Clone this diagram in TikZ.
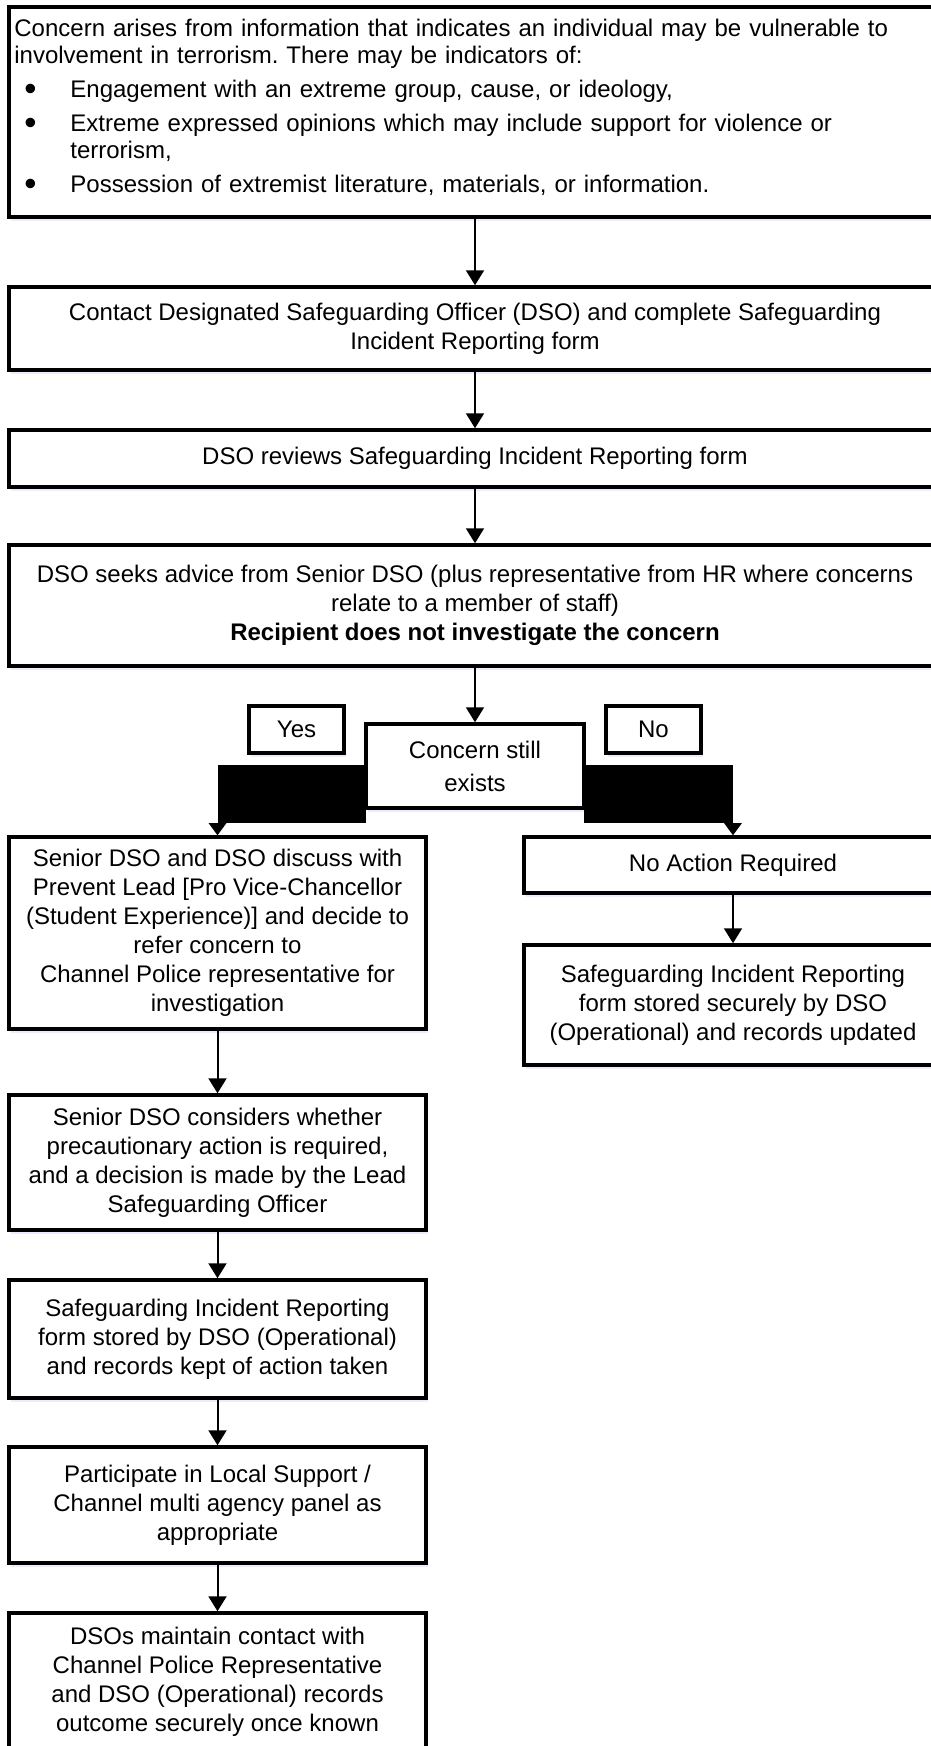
\documentclass[tikz,border=0pt]{standalone}
\usepackage{fontspec}
\usepackage{graphicx}
\setmainfont{Liberation Sans}
\frenchspacing
\usetikzlibrary{arrows.meta,calc,shadows}
\newcommand{\bigbul}{\hspace*{5pt}\makebox[23pt][l]{\raisebox{-1.6pt}{\scalebox{1.45}{\textbullet}}}}
\begin{document}
\begin{tikzpicture}[x=0.5pt,y=-0.5pt,
  every node/.style={font=\fontsize{12pt}{14.5pt}\selectfont},
  box/.style={draw, line width=1.75pt, fill=white, inner sep=0pt, align=center,
    drop shadow={shadow xshift=1pt, shadow yshift=-2pt, fill=blue!30!white, opacity=0.25}},
  conn/.style={line width=1pt, -{Triangle[width=9pt,length=7.5pt]}},
  blk/.style={fill=black}
]
\useasboundingbox (0,0) rectangle (931,1746);
\clip (0,0) rectangle (931,1746);

% main spine
\node[box, minimum width=466pt, minimum height=105pt] (top) at (475,112) {};
\node[anchor=base west, inner sep=0pt, text width=460pt, align=left,
      font=\fontsize{12pt}{13.5pt}\selectfont] (toptext) at (14,36)
{Concern arises from information that indicates an individual may be vulnerable to\\
involvement in terrorism. There may be indicators of:\\[3.5pt]
\bigbul Engagement with an extreme group, cause, or ideology,\\[3.5pt]
\bigbul Extreme expressed opinions which may include support for violence or\\
\hspace*{28pt}terrorism,\\[3.5pt]
\bigbul Possession of extremist literature, materials, or information.};

\node[box, minimum width=466pt, minimum height=41.5pt] (contact) at (475,328.5)
{Contact Designated Safeguarding Officer (DSO) and complete Safeguarding\\Incident Reporting form};
\node[box, minimum width=466pt, minimum height=28.5pt] (review) at (475,458.5)
{DSO reviews Safeguarding Incident Reporting form};
\node[box, minimum width=466pt, minimum height=60.5pt] (advice) at (475,605.5)
{DSO seeks advice from Senior DSO (plus representative from HR where concerns\\relate to a member of staff)\\\textbf{Recipient does not investigate the concern}};

% decision
\node[box, minimum width=109pt, minimum height=42pt] (concern) at (475,766)
{Concern still\\[2pt]exists};
\node[box, minimum width=47.5pt, minimum height=23.5pt] (yes) at (296.5,729.5) {Yes};
\node[box, minimum width=47.5pt, minimum height=23.5pt] (no) at (653.5,729.5) {No};

% left column
\node[box, minimum width=208.5pt, minimum height=96pt] (senior) at (217.5,933)
{Senior DSO and DSO discuss with\\Prevent Lead [Pro Vice-Chancellor\\(Student Experience)] and decide to\\refer concern to\\Channel Police representative for\\investigation};
\node[box, minimum width=208.5pt, minimum height=67.5pt] (considers) at (217.5,1162.5)
{Senior DSO considers whether\\precautionary action is required,\\and a decision is made by the Lead\\Safeguarding Officer};
\node[box, minimum width=208.5pt, minimum height=59pt] (stored) at (217.5,1339)
{Safeguarding Incident Reporting\\form stored by DSO (Operational)\\and records kept of action taken};
\node[box, minimum width=208.5pt, minimum height=58pt] (participate) at (217.5,1505)
{Participate in Local Support /\\Channel multi agency panel as\\appropriate};
\node[box, minimum width=208.5pt, minimum height=68.5pt] (maintain) at (217.5,1681.5)
{DSOs maintain contact with\\Channel Police Representative\\and DSO (Operational) records\\outcome securely once known};

% right column
\node[box, minimum width=209pt, minimum height=28pt] (noaction) at (733,865)
{No Action Required};
\node[box, minimum width=209pt, minimum height=60pt] (secure) at (733,1005)
{Safeguarding Incident Reporting\\form stored securely by DSO\\(Operational) and records updated};

% connectors
\draw[conn] (top) -- (contact);
\draw[conn] (contact) -- (review);
\draw[conn] (review) -- (advice);
\draw[conn] (advice) -- (concern);

\coordinate (ytop) at (0,765);
\coordinate (ybot) at (0,823);
\fill[blk] (senior.north |- ytop) rectangle ([xshift=1pt]concern.west |- ybot);
\fill[blk] ([xshift=-4.5pt]senior.north |- ybot) -- ([xshift=4.5pt]senior.north |- ybot) -- (senior.north) -- cycle;
\fill[blk] ([xshift=-1pt]concern.east |- ytop) rectangle (noaction.north |- ybot);
\fill[blk] ([xshift=-4.5pt]noaction.north |- ybot) -- ([xshift=4.5pt]noaction.north |- ybot) -- (noaction.north) -- cycle;

\draw[conn] (senior) -- (considers);
\draw[conn] (considers) -- (stored);
\draw[conn] (stored) -- (participate);
\draw[conn] (participate) -- (maintain);
\draw[conn] (noaction) -- (secure);
\end{tikzpicture}
\end{document}
